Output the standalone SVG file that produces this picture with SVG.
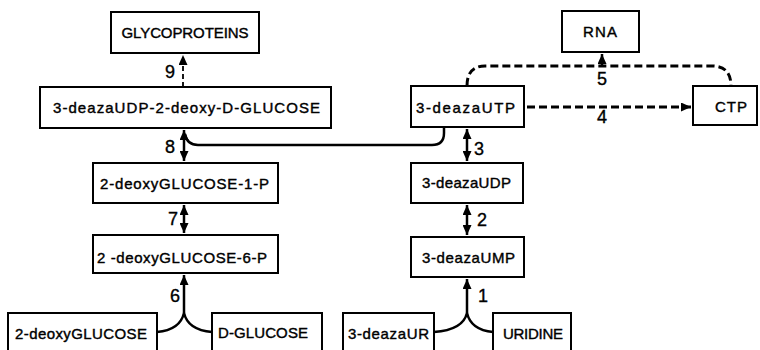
<svg xmlns="http://www.w3.org/2000/svg" width="760" height="350" viewBox="0 0 760 350">
  <style>
    .box { fill: #fff; stroke: #000; stroke-width: 2; }
    .lbl { font-family: "Liberation Sans", Arial, sans-serif; font-size: 15px; fill: #000; stroke: #000; stroke-width: 0.4; text-anchor: middle; }
    .num { font-family: "Liberation Sans", Arial, sans-serif; font-size: 18px; fill: #000; stroke: #000; stroke-width: 0.35; text-anchor: middle; }
    .line { fill: none; stroke: #000; stroke-width: 2.5; }
    .dash { fill: none; stroke: #000; stroke-width: 3; stroke-dasharray: 8 4; }
    .dash-thin { fill: none; stroke: #000; stroke-width: 1.8; stroke-dasharray: 5 3; }
  </style>
  <defs>
    <marker id="arr" markerUnits="userSpaceOnUse" markerWidth="10" markerHeight="9" viewBox="0 0 10 9" refX="10" refY="4.5" orient="auto-start-reverse">
      <path d="M0,0 L10,4.5 L0,9 z" fill="#000"/>
    </marker>
  </defs>

  <rect width="760" height="350" fill="#fff"/>

  <!-- connectors -->
  <g id="connectors">
    <!-- 9: dashed to glycoproteins -->
    <line class="dash-thin" x1="183" y1="87" x2="183" y2="55" marker-end="url(#arr)"/>
    <!-- 8 -->
    <line class="line" x1="184" y1="130" x2="184" y2="161" marker-start="url(#arr)" marker-end="url(#arr)"/>
    <!-- UTP feeding reaction 8 -->
    <path class="line" d="M185,134 Q187,145 198,145 L432,145 Q444,145 444,133 L444,127"/>
    <!-- 7 -->
    <line class="line" x1="184" y1="205" x2="184" y2="233" marker-start="url(#arr)" marker-end="url(#arr)"/>
    <!-- 6 -->
    <line class="line" x1="184" y1="313" x2="184" y2="275" marker-end="url(#arr)"/>
    <path class="line" d="M157,332 Q180,330 184,313 Q188,330 212,332"/>
    <!-- 3 -->
    <line class="line" x1="467" y1="129" x2="467" y2="161" marker-start="url(#arr)" marker-end="url(#arr)"/>
    <!-- 2 -->
    <line class="line" x1="467" y1="205" x2="467" y2="235" marker-start="url(#arr)" marker-end="url(#arr)"/>
    <!-- 1 -->
    <line class="line" x1="467" y1="313" x2="467" y2="279" marker-end="url(#arr)"/>
    <path class="line" d="M434,332 Q463,330 467,313 Q471,330 493,332"/>
    <!-- 4: dashed UTP to CTP -->
    <line class="dash" x1="527" y1="107" x2="691" y2="107" marker-end="url(#arr)"/>
    <!-- 5: dashed UTP and CTP to RNA -->
    <path class="dash" d="M467,86 Q467,66 485,66 L712,66 Q731,66 731,86"/>
    <line class="line" x1="602" y1="66" x2="602" y2="54" marker-end="url(#arr)"/>
  </g>

  <!-- reaction numbers -->
  <g id="numbers">
    <text class="num" x="170" y="78">9</text>
    <text class="num" x="170" y="153">8</text>
    <text class="num" x="173" y="225">7</text>
    <text class="num" x="175" y="302">6</text>
    <text class="num" x="602" y="85">5</text>
    <text class="num" x="602" y="123">4</text>
    <text class="num" x="479" y="155">3</text>
    <text class="num" x="482" y="226">2</text>
    <text class="num" x="483" y="302">1</text>
  </g>

  <g id="glycoproteins">
    <rect class="box" x="111" y="12" width="148" height="41"/>
    <text class="lbl" x="185" y="38" textLength="127">GLYCOPROTEINS</text>
  </g>
  <g id="udp-deoxyglucose">
    <rect class="box" x="40" y="87" width="291" height="41"/>
    <text class="lbl" x="186.5" y="113" textLength="267">3-deazaUDP-2-deoxy-D-GLUCOSE</text>
  </g>
  <g id="deoxyglucose-1-p">
    <rect class="box" x="93" y="163" width="185" height="40"/>
    <text class="lbl" x="184.5" y="189" textLength="169">2-deoxyGLUCOSE-1-P</text>
  </g>
  <g id="deoxyglucose-6-p">
    <rect class="box" x="93" y="235" width="185" height="38"/>
    <text class="lbl" x="182" y="263" textLength="170">2 -deoxyGLUCOSE-6-P</text>
  </g>
  <g id="deoxyglucose">
    <rect class="box" x="8" y="313" width="149" height="42"/>
    <text class="lbl" x="81" y="339" textLength="132">2-deoxyGLUCOSE</text>
  </g>
  <g id="d-glucose">
    <rect class="box" x="212" y="313" width="110" height="42"/>
    <text class="lbl" x="263" y="338" textLength="90">D-GLUCOSE</text>
  </g>
  <g id="rna">
    <rect class="box" x="562" y="11" width="77" height="41"/>
    <text class="lbl" x="600" y="37" textLength="34">RNA</text>
  </g>
  <g id="deaza-utp">
    <rect class="box" x="411" y="86" width="113" height="41"/>
    <text class="lbl" x="465.5" y="113" textLength="99">3-deazaUTP</text>
  </g>
  <g id="ctp">
    <rect class="box" x="693" y="86" width="64" height="39"/>
    <text class="lbl" x="731" y="112" textLength="32">CTP</text>
  </g>
  <g id="deaza-udp">
    <rect class="box" x="411" y="163" width="112" height="40"/>
    <text class="lbl" x="466.5" y="188" textLength="89">3-deazaUDP</text>
  </g>
  <g id="deaza-ump">
    <rect class="box" x="411" y="237" width="113" height="40"/>
    <text class="lbl" x="468.5" y="263" textLength="93">3-deazaUMP</text>
  </g>
  <g id="deaza-ur">
    <rect class="box" x="343" y="313" width="91" height="42"/>
    <text class="lbl" x="388.5" y="339" textLength="81">3-deazaUR</text>
  </g>
  <g id="uridine">
    <rect class="box" x="493" y="313" width="78" height="42"/>
    <text class="lbl" x="533" y="339" textLength="60">URIDINE</text>
  </g>
</svg>
